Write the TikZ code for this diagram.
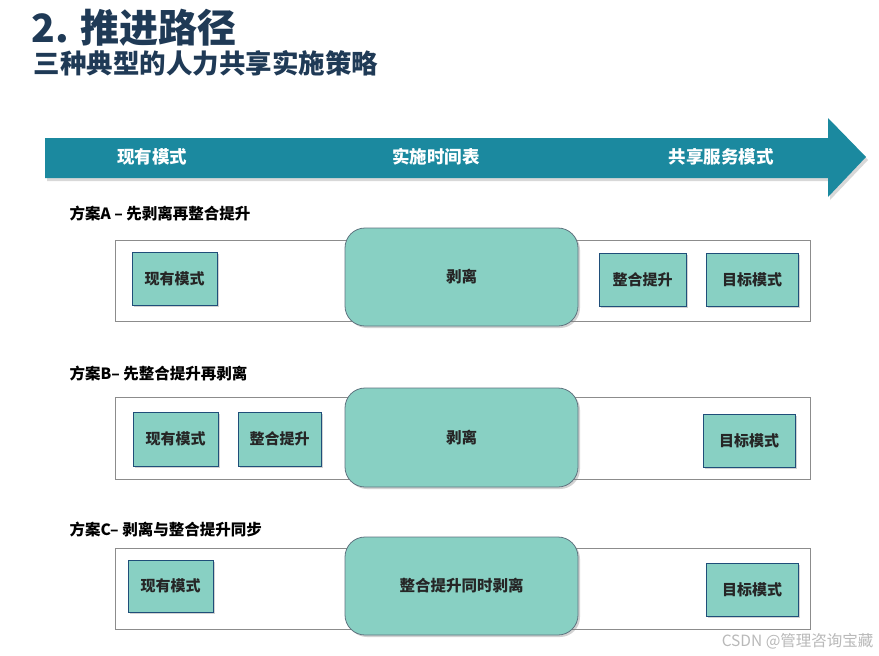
\documentclass[tikz,border=0pt]{standalone}
\usepackage{fontspec}
\setmainfont{Noto Sans CJK SC}[BoldFont={Noto Sans CJK SC Black}]
\usepackage{tikz}
\usetikzlibrary{shadows}
\definecolor{navy}{HTML}{1F3A56}
\definecolor{tealarrow}{HTML}{1B899F}
\definecolor{mint}{HTML}{88D0C3}
\definecolor{boxline}{HTML}{1F4E79}
\definecolor{bigline}{HTML}{5F7480}
\definecolor{bandline}{HTML}{8C8C8C}
\definecolor{inktext}{HTML}{262626}

\begin{document}
\begin{tikzpicture}[x=1pt,y=-1pt,
		band/.style={draw=bandline,fill=white,line width=0.8pt},
		stagebox/.style={draw=boxline,fill=mint,line width=0.8pt,text=inktext,
			font=\fontsize{15}{18}\selectfont\bfseries,
			drop shadow={shadow xshift=2pt,shadow yshift=-2pt,opacity=0.35}},
		bigbox/.style={draw=bigline,fill=mint,line width=0.8pt,rounded corners=20pt,text=inktext,
			font=\fontsize{15.5}{18}\selectfont\bfseries,
			drop shadow={shadow xshift=2pt,shadow yshift=-2pt,opacity=0.35}},
		planlabel/.style={anchor=west,font=\fontsize{15.5}{18}\selectfont\bfseries,text=black},
		arrowlabel/.style={text=white,font=\fontsize{17.5}{20}\selectfont\bfseries}]
	\useasboundingbox[fill=white] (0,0) rectangle (879,656);
	% heading
	\node[anchor=west,text=navy,font=\fontsize{39}{42}\selectfont\bfseries] (title) at (28,28) {2. 推进路径};
	\node[anchor=west,text=navy,font=\fontsize{26.5}{30}\selectfont\bfseries] (subtitle) at (30,63) {三种典型的人力共享实施策略};
	% the timeline arrow
	\fill[gray!60,opacity=0.5] (47,141) -- (830,141) -- (830,121) -- (868,160) -- (830,200) -- (830,181) -- (47,181) -- cycle;
	\fill[tealarrow] (45,138) -- (828,138) -- (828,118) -- (866,157) -- (828,197) -- (828,178) -- (45,178) -- cycle;
	\node[arrowlabel] (now) at (152,157) {现有模式};
	\node[arrowlabel] (plan) at (436,157) {实施时间表};
	\node[arrowlabel] (goal) at (721,157) {共享服务模式};
	% plan A
	\node[planlabel] (labelA) at (66,214) {方案A – 先剥离再整合提升};
	\draw[band] (115,240) rectangle (810,321);
	\node[stagebox,minimum width=85pt,minimum height=53pt] (nowA) at (174.5,278.5) {现有模式};
	\node[bigbox,minimum width=233pt,minimum height=98pt] (splitA) at (461.5,277) {剥离};
	\node[stagebox,minimum width=87pt,minimum height=53pt] (mergeA) at (642.5,279.5) {整合提升};
	\node[stagebox,minimum width=92pt,minimum height=53pt] (goalA) at (752,279.5) {目标模式};
	% plan B
	\node[planlabel] (labelB) at (66,374) {方案B– 先整合提升再剥离};
	\draw[band] (115,397) rectangle (810,479);
	\node[stagebox,minimum width=85pt,minimum height=54pt] (nowB) at (175.5,439) {现有模式};
	\node[stagebox,minimum width=83pt,minimum height=54pt] (mergeB) at (279.5,439) {整合提升};
	\node[bigbox,minimum width=233pt,minimum height=99pt] (splitB) at (461.5,437.5) {剥离};
	\node[stagebox,minimum width=92pt,minimum height=53pt] (goalB) at (749,440.5) {目标模式};
	% plan C
	\node[planlabel] (labelC) at (66,530) {方案C– 剥离与整合提升同步};
	\draw[band] (115,548) rectangle (810,629);
	\node[stagebox,minimum width=85pt,minimum height=52pt] (nowC) at (170.5,586) {现有模式};
	\node[bigbox,minimum width=233pt,minimum height=98pt] (bothC) at (461.5,586) {整合提升同时剥离};
	\node[stagebox,minimum width=92pt,minimum height=53pt] (goalC) at (752,589.5) {目标模式};
	% watermark
	\node[anchor=east,text=gray!55,font=\fontsize{15.5}{18}\selectfont] (mark) at (877,641) {CSDN @管理咨询宝藏};
\end{tikzpicture}
\end{document}
